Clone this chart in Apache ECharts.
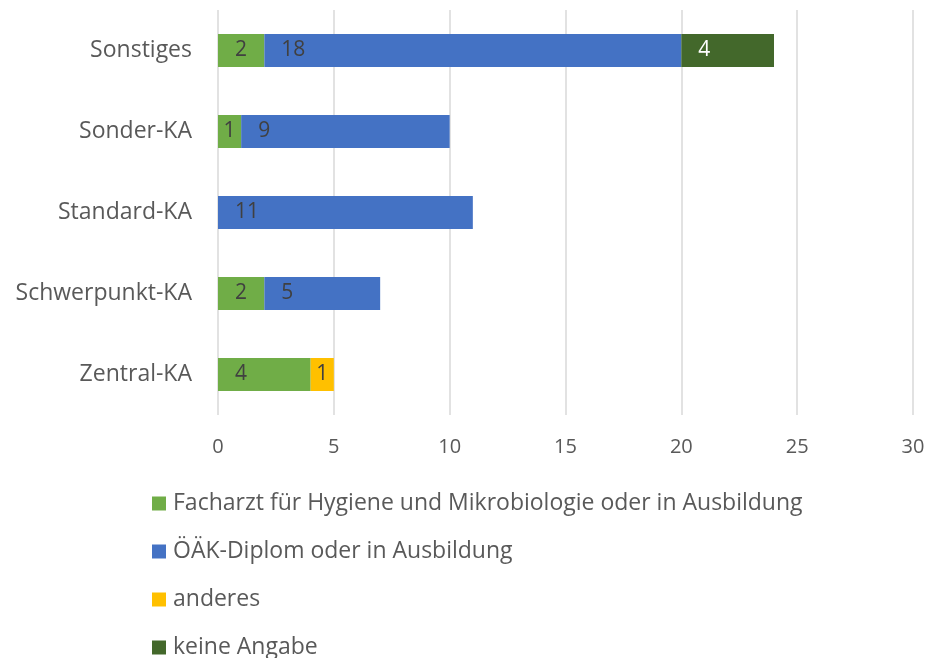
<!DOCTYPE html>
<html>
<head>
<meta charset="utf-8">
<script src="https://cdn.jsdelivr.net/npm/echarts@6/dist/echarts.min.js"></script>
<style>
  html, body { margin: 0; padding: 0; background: #fff; }
  #chart { width: 929px; height: 658px; }
</style>
</head>
<body>
<div id="chart"></div>
<script>
// categories from bottom to top (category axis starts at bottom)
const categories = ['Zentral-KA', 'Schwerpunkt-KA', 'Standard-KA', 'Sonder-KA', 'Sonstiges'];
const seriesNames = [
  'Facharzt für Hygiene und Mikrobiologie oder in Ausbildung',
  'ÖÄK-Diplom oder in Ausbildung',
  'anderes',
  'keine Angabe'
];
const facharzt = [4, 2, 0, 1, 2];
const oeak = [0, 5, 11, 9, 18];
const anderes = [1, 0, 0, 0, 0];
const keineAngabe = [0, 0, 0, 0, 4];
const xTicks = [0, 5, 10, 15, 20, 25, 30];

const colors = ['#70AD47', '#4472C4', '#FFC000', '#43682B'];
const labelColors = ['#404040', '#404040', '#404040', '#ffffff'];
const FONT = '"Open Sans", sans-serif';

// 0 values get no segment; short segments get centered label
function toData(values) {
  return values.map(v => {
    if (!v) return { value: '-' };
    if (v <= 1) return { value: v, label: { position: 'inside' } };
    return v;
  });
}

const allValues = [facharzt, oeak, anderes, keineAngabe];
const series = allValues.map((vals, i) => ({
  name: seriesNames[i],
  type: 'bar',
  stack: 'total',
  barWidth: 33,
  data: toData(vals),
  itemStyle: { color: colors[i] },
  label: {
    show: true,
    position: 'insideLeft',
    distance: 17,
    color: labelColors[i],
    fontFamily: FONT,
    fontSize: 21
  }
}));

let chart = echarts.init(document.getElementById('chart'));
let option = {
  animation: false,
  textStyle: { fontFamily: FONT },
  grid: {
    left: 218,
    right: 16,
    top: 10,
    height: 405,
    containLabel: false
  },
  legend: {
    orient: 'vertical',
    left: 152,
    top: 492,
    height: 200,
    padding: 0,
    itemWidth: 14,
    itemHeight: 14,
    itemGap: 25,
    icon: 'rect',
    textStyle: {
      color: '#595959',
      fontFamily: FONT,
      fontSize: 23,
      padding: [0, 0, 0, 2]
    },
    data: seriesNames
  },
  xAxis: {
    type: 'value',
    min: xTicks[0],
    max: xTicks[xTicks.length - 1],
    interval: 5,
    axisLine: { show: false },
    axisTick: { show: false },
    axisLabel: {
      color: '#595959',
      fontFamily: FONT,
      fontSize: 20,
      margin: 22
    },
    splitLine: {
      show: true,
      lineStyle: { color: '#d9d9d9', width: 1.5 }
    }
  },
  yAxis: {
    type: 'category',
    data: categories,
    axisLine: { show: false },
    axisTick: { show: false },
    axisLabel: {
      color: '#595959',
      fontFamily: FONT,
      fontSize: 23,
      margin: 26
    }
  },
  series: series
};
chart.setOption(option, true);
</script>
</body>
</html>
